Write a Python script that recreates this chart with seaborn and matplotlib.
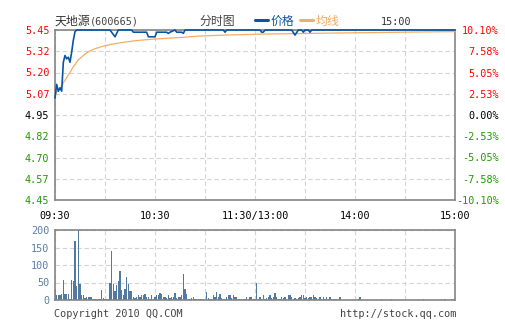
import matplotlib
matplotlib.use("Agg")
import matplotlib.pyplot as plt
import seaborn as sns
import pandas as pd

# ---------------- data ----------------
time_ticks = [0, 60, 120, 180, 240]
time_labels = ["09:30", "10:30", "11:30/13:00", "14:00", "15:00"]

price_ticks = [4.45, 4.575, 4.70, 4.825, 4.95, 5.075, 5.20, 5.325, 5.45]
price_labels = ["4.45", "4.57", "4.70", "4.82", "4.95", "5.07", "5.20", "5.32", "5.45"]
pct_ticks = [-10.101, -7.576, -5.05, -2.525, 0.0, 2.525, 5.05, 7.576, 10.101]
pct_labels = ["-10.10%", "-7.58%", "-5.05%", "-2.53%", "0.00%", "2.53%", "5.05%", "7.58%", "10.10%"]
vol_ticks = [0, 50, 100, 150, 200]

# price line (minute, price)
price_min = [0, 1, 2, 3, 4, 5, 6, 7, 8, 9, 10, 11, 12, 13,
             33, 36, 38, 46, 47, 55, 56, 60, 61, 67, 68, 69, 72, 73, 76, 77, 78,
             101, 102, 103, 123, 124, 125, 126,
             142, 144, 146, 148, 149, 150, 152, 153, 154, 240]
price_val = [5.05, 5.13, 5.09, 5.11, 5.09, 5.26, 5.30, 5.28, 5.29, 5.26, 5.32, 5.39, 5.44, 5.45,
             5.45, 5.41, 5.45, 5.45, 5.437, 5.437, 5.41, 5.41, 5.437, 5.437, 5.43, 5.437, 5.45, 5.437, 5.437, 5.43, 5.45,
             5.45, 5.437, 5.45, 5.45, 5.437, 5.437, 5.45,
             5.45, 5.42, 5.45, 5.45, 5.437, 5.45, 5.45, 5.437, 5.45, 5.45]

# average line (minute, price)
avg_min = [0, 1, 3, 5, 7, 9, 11, 14, 17, 20, 24, 29, 34, 40, 49, 60, 77, 86, 102, 125, 167, 233, 240]
avg_val = [5.07, 5.085, 5.105, 5.14, 5.17, 5.20, 5.234, 5.274, 5.300, 5.322, 5.340, 5.355, 5.366,
           5.376, 5.388, 5.397, 5.407, 5.414, 5.42, 5.426, 5.432, 5.44, 5.44]

# per-minute volume (09:30 .. 15:00)
volume = [
    32, 15, 13, 15, 18, 58, 18, 18, 18, 4,
    58, 55, 170, 41, 200, 47, 15, 15, 6, 10,
    8, 10, 10, 4, 4, 4, 2, 4, 30, 6,
    4, 4, 4, 50, 139, 47, 27, 42, 53, 84,
    28, 15, 32, 66, 46, 27, 27, 8, 6, 10,
    13, 8, 13, 13, 18, 8, 10, 4, 13, 3,
    8, 15, 15, 20, 18, 10, 10, 6, 15, 6,
    10, 8, 20, 6, 8, 10, 13, 74, 32, 18,
    4, 4, 6, 10, 4, 2, 4, 2, 4, 2,
    1, 24, 6, 2, 4, 15, 10, 24, 10, 18,
    6, 4, 2, 10, 13, 13, 6, 15, 8, 10,
    4, 4, 4, 4, 2, 8, 2, 8, 8, 4,
    2, 50, 4, 8, 4, 15, 4, 6, 8, 15,
    6, 8, 21, 8, 4, 4, 8, 6, 10, 4,
    15, 13, 10, 4, 6, 4, 6, 10, 15, 15,
    6, 8, 6, 8, 8, 13, 10, 6, 4, 8,
    4, 8, 4, 8, 4, 10, 4, 4, 2, 4,
    4, 8, 1, 1, 1, 1, 1, 1, 1, 1,
    1, 1, 4, 8, 1, 1, 1, 1, 1, 1,
    1, 1, 1, 1, 1, 1, 4, 1, 1, 1,
    1, 1, 4, 1, 1, 1, 1, 1, 1, 1,
    1, 1, 1, 1, 1, 1, 1, 1, 1, 1,
    1, 4, 1, 1, 1, 1, 1, 1, 1, 1,
    1, 1, 4, 1, 4, 1, 1, 1, 4, 4,
    1,
]
minutes = list(range(len(volume)))

# ---------------- style ----------------
sns.set_style("white")
plt.rcParams["font.family"] = ["DejaVu Sans Mono", "Noto Sans CJK SC", "DejaVu Sans"]

BLUE = "#0a55a3"
ORANGE = "#f5ad62"
RED = "#ff0000"
GREEN = "#1f9a00"
GRID = "#d4d4d4"
FRAME = "#858585"
VOLC = "#52799f"
VOLTXT = "#5a7ea6"
FS = 7.3
CJK = ["Noto Sans CJK SC", "DejaVu Sans"]

W, H = 505, 330
fig = plt.figure(figsize=(W / 100, H / 100), dpi=100)
ax = fig.add_axes([55 / W, 1 - 200 / H, 400 / W, 170 / H])
axv = fig.add_axes([55 / W, 1 - 300 / H, 400 / W, 70 / H])

grid_kw = dict(color=GRID, lw=0.8, linestyle=(0, (4, 2.5)))

# ---------------- price panel ----------------
df_avg = pd.DataFrame({"m": avg_min, "p": avg_val})
df_pr = pd.DataFrame({"m": price_min, "p": price_val})
sns.lineplot(data=df_avg, x="m", y="p", ax=ax, color=ORANGE, lw=0.9, estimator=None, zorder=4)
sns.lineplot(data=df_pr, x="m", y="p", ax=ax, color=BLUE, lw=1.2, estimator=None, zorder=5)
for ln in ax.get_lines():
    ln.set_clip_on(False)

ax.set_xlim(0, 240)
ax.set_ylim(4.45, 5.45)
ax.set_xticks(list(range(0, 241, 30)))
ax.set_xticklabels(["" if t not in time_ticks else time_labels[time_ticks.index(t)] for t in range(0, 241, 30)])
ax.set_yticks(price_ticks)
ax.set_yticklabels(price_labels)
ax.grid(True, **grid_kw)
ax.set_axisbelow(True)
ax.set_xlabel("")
ax.set_ylabel("")
ax.tick_params(axis="both", length=0, labelsize=FS)
ax.tick_params(axis="x", pad=8, colors="black")
ax.tick_params(axis="y", pad=4)
for lab, v in zip(ax.get_yticklabels(), price_ticks):
    lab.set_color(RED if v > 4.951 else (GREEN if v < 4.949 else "black"))
for s in ax.spines.values():
    s.set_color(FRAME)
    s.set_linewidth(1.2)

ax2 = ax.twinx()
ax2.set_ylim(-10.101, 10.101)
ax2.set_yticks(pct_ticks)
ax2.set_yticklabels(pct_labels)
ax2.tick_params(axis="y", length=0, labelsize=FS, pad=31.5)
for lab, v in zip(ax2.get_yticklabels(), pct_ticks):
    lab.set_ha("right")
    lab.set_color(RED if v > 0.01 else (GREEN if v < -0.01 else "black"))
for s in ax2.spines.values():
    s.set_visible(False)

# ---------------- volume panel ----------------
df_vol = pd.DataFrame({"m": minutes, "v": volume})
sns.barplot(data=df_vol, x="m", y="v", ax=axv, native_scale=True, color=VOLC,
            saturation=1, errorbar=None, width=0.75, linewidth=0)
axv.set_xlim(0, 240)
axv.set_ylim(0, 200)
axv.set_xticks(list(range(0, 241, 30)))
axv.set_xticklabels([])
axv.set_yticks(vol_ticks)
axv.set_yticklabels([str(v) for v in vol_ticks])
axv.grid(True, **grid_kw)
axv.set_axisbelow(True)
axv.set_xlabel("")
axv.set_ylabel("")
axv.tick_params(axis="both", length=0, labelsize=FS, pad=4)
axv.tick_params(axis="y", colors=VOLTXT)
for s in axv.spines.values():
    s.set_color(FRAME)
    s.set_linewidth(1.2)

# ---------------- header / footer texts ----------------
def fx(px):
    return px / W

def fy(py):
    return 1 - py / H

fig.text(fx(55), fy(21), "天地源", family=CJK, fontsize=8.6, color="#333333", ha="left", va="center")
fig.text(fx(90), fy(22), "(600665)", fontsize=FS, color="#444444", ha="left", va="center")
fig.text(fx(217), fy(21), "分时图", family=CJK, fontsize=8.6, color="#444444", ha="center", va="center")
fig.add_artist(plt.Line2D([fx(255), fx(268)], [fy(20), fy(20)], color=BLUE, lw=2.2))
fig.text(fx(271), fy(21), "价格", family=CJK, fontsize=8.6, color=BLUE, ha="left", va="center")
fig.add_artist(plt.Line2D([fx(300), fx(313)], [fy(20), fy(20)], color=ORANGE, lw=2.2))
fig.text(fx(316), fy(21), "均线", family=CJK, fontsize=8.6, color=ORANGE, ha="left", va="center")
fig.text(fx(396), fy(22), "15:00", fontsize=FS, color="#333333", ha="center", va="center")

fig.text(fx(54), fy(314), "Copyright 2010 QQ.COM", fontsize=FS, color="#444444", ha="left", va="center")
fig.text(fx(456), fy(314), "http://stock.qq.com", fontsize=FS, color="#444444", ha="right", va="center")

fig.savefig("out.png", dpi=100, facecolor="white")
